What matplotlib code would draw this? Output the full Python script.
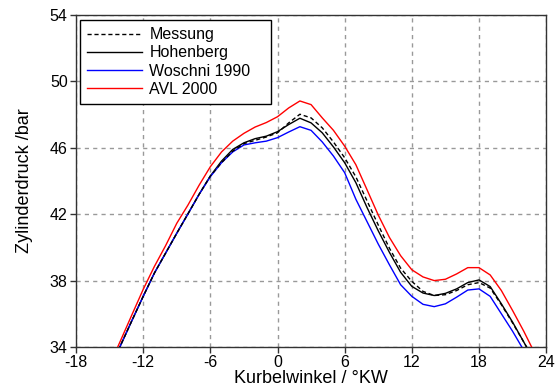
import matplotlib
matplotlib.use("Agg")
import matplotlib.pyplot as plt

plt.rcParams['font.family'] = ['Liberation Sans', 'DejaVu Sans']
plt.rcParams['axes.unicode_minus'] = False

# Crank angle in degrees (°KW)
kw = list(range(-15, 24))

messung = [32.67, 34.13, 35.6, 37.05, 38.45, 39.65, 40.85, 42.02, 43.2, 44.3,
           45.1, 45.8, 46.25, 46.45, 46.65, 46.9, 47.5, 48.02, 47.8, 47.2,
           46.35, 45.4, 44.25, 42.8, 41.35, 39.95, 38.75, 37.95, 37.35, 37.1,
           37.15, 37.4, 37.75, 37.88, 37.55, 36.55, 35.45, 34.3, 33.1]

hohenberg = [32.67, 34.13, 35.6, 37.05, 38.45, 39.65, 40.85, 42.02, 43.2, 44.3,
             45.2, 45.9, 46.3, 46.55, 46.7, 46.97, 47.4, 47.78, 47.5, 46.9,
             46.05, 45.1, 43.9, 42.4, 41.0, 39.7, 38.5, 37.65, 37.25, 37.1,
             37.23, 37.5, 37.88, 38.04, 37.64, 36.6, 35.5, 34.3, 33.1]

woschni = [32.67, 34.13, 35.6, 37.05, 38.45, 39.65, 40.85, 42.02, 43.2, 44.26,
           45.1, 45.75, 46.17, 46.3, 46.4, 46.61, 46.95, 47.27, 47.05, 46.35,
           45.5, 44.5, 42.9, 41.55, 40.2, 38.95, 37.75, 37.05, 36.57, 36.43,
           36.6, 37.0, 37.43, 37.5, 37.05, 36.0, 34.95, 33.8, 32.6]

avl = [32.9, 34.42, 35.95, 37.47, 38.85, 40.1, 41.45, 42.55, 43.75, 44.86,
       45.75, 46.4, 46.87, 47.25, 47.52, 47.87, 48.4, 48.82, 48.6, 47.8,
       47.05, 46.1, 44.98, 43.47, 41.95, 40.6, 39.5, 38.65, 38.22, 38.0,
       38.08, 38.4, 38.78, 38.78, 38.34, 37.4, 36.2, 34.95, 33.6]

x_ticks = [-18, -12, -6, 0, 6, 12, 18, 24]
y_ticks = [34, 38, 42, 46, 50, 54]

fig = plt.figure(figsize=(5.59, 3.88), dpi=100)
ax = fig.add_axes([0.136, 0.1057, 0.841, 0.8557])

lw = 1.0
ax.plot(kw, messung, color='black', lw=lw, ls=(0, (3, 2)), label='Messung', zorder=4)
ax.plot(kw, hohenberg, color='black', lw=lw, label='Hohenberg', zorder=3)
ax.plot(kw, woschni, color='#0000ff', lw=lw, label='Woschni 1990', zorder=3)
ax.plot(kw, avl, color='#ff0000', lw=lw, label='AVL 2000', zorder=3)

ax.set_xlim(-18, 24)
ax.set_ylim(34, 54)
ax.set_xticks(x_ticks)
ax.set_yticks(y_ticks)
ax.tick_params(direction='out', length=4, width=1, labelsize=11.5,
               color='#333333', pad=2)

ax.grid(True, color='#999999', ls=(0, (3, 3)), lw=1.0)
ax.set_axisbelow(True)
for s in ax.spines.values():
    s.set_color('#333333')
    s.set_linewidth(1.0)

ax.set_xlabel('Kurbelwinkel / °KW', fontsize=13, labelpad=0)
ax.set_ylabel('Zylinderdruck /bar', fontsize=13, labelpad=12)

leg = ax.legend(loc='upper left', bbox_to_anchor=(0.0085, 0.0, 0.406, 0.985),
                mode='expand', borderaxespad=0.0,
                fontsize=11.5, frameon=True, fancybox=False,
                edgecolor='black', framealpha=1, handlelength=3.4,
                labelspacing=0.2, handletextpad=0.5, borderpad=0.45)
leg.get_frame().set_linewidth(1.0)

fig.savefig('out.png', dpi=100)
